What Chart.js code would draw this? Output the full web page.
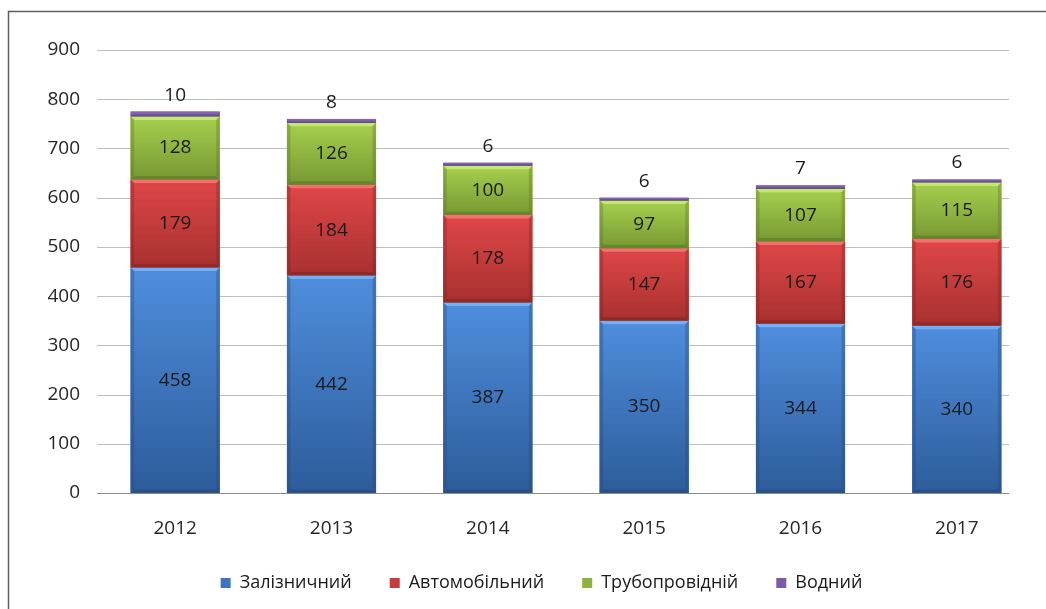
<!DOCTYPE html>
<html>
<head>
<meta charset="utf-8">
<script src="https://cdn.jsdelivr.net/npm/chart.js@4.4.1/dist/chart.umd.min.js"></script>
<style>
html,body{margin:0;padding:0;background:#fff;}
#wrap{position:relative;width:1046px;height:609px;}
</style>
</head>
<body>
<div id="wrap"><canvas id="c" width="1046" height="609"></canvas></div>
<script>
const categories = ['2012', '2013', '2014', '2015', '2016', '2017'];
const seriesNames = ['Залізничний', 'Автомобільний', 'Трубопровідній', 'Водний'];
const railway = [458, 442, 387, 350, 344, 340];
const road = [179, 184, 178, 147, 167, 176];
const pipeline = [128, 126, 100, 97, 107, 115];
const water = [10, 8, 6, 6, 7, 6];
const yMin = 0, yMax = 900, yStep = 100;

const palettes = [
  {mid:'#3d74bd', top:'#4f8edd', bottom:'#2d5c9a', light:'#78b6f8', dark:'#25497a'},
  {mid:'#c73b3b', top:'#e04747', bottom:'#a83030', light:'#f87878', dark:'#7e2222'},
  {mid:'#8cb43c', top:'#a6d04e', bottom:'#789832', light:'#c8ec78', dark:'#5a7424'},
  {mid:'#7b5ba6', top:'#8a6ab5', bottom:'#6c4c96', light:'#a48acc', dark:'#4e3670'}
];

const FONT = '"Open Sans", "Liberation Sans", sans-serif';
const GRID_END = 1009;

const frame = {
  id: 'frame',
  afterDraw(chart) {
    const ctx = chart.ctx;
    ctx.save();
    ctx.strokeStyle = '#5e5e5e';
    ctx.lineWidth = 1.5;
    ctx.beginPath();
    ctx.moveTo(8.5, 609);
    ctx.lineTo(8.5, 11.5);
    ctx.lineTo(1046, 11.5);
    ctx.stroke();
    ctx.restore();
  }
};

const gridlines = {
  id: 'gridlines',
  beforeDatasetsDraw(chart) {
    const ctx = chart.ctx;
    const ys = chart.scales.y;
    const left = chart.chartArea.left;
    ctx.save();
    ctx.lineWidth = 1;
    ys.ticks.forEach(t => {
      const y = Math.round(ys.getPixelForValue(t.value)) + 0.5;
      ctx.strokeStyle = t.value === 0 ? '#8c8c8c' : '#bdbdbd';
      ctx.beginPath();
      ctx.moveTo(left, y);
      ctx.lineTo(GRID_END, y);
      ctx.stroke();
    });
    ctx.restore();
  }
};

const bevel = {
  id: 'bevel',
  afterDatasetsDraw(chart) {
    const ctx = chart.ctx;
    ctx.save();
    chart.data.datasets.forEach((ds, i) => {
      const meta = chart.getDatasetMeta(i);
      const p = palettes[i];
      meta.data.forEach((el, j) => {
        const l = el.x - el.width / 2, r = el.x + el.width / 2;
        const t = Math.min(el.y, el.base), b = Math.max(el.y, el.base);
        const h = b - t;
        if (h <= 0) return;
        const g = ctx.createLinearGradient(0, t, 0, b);
        g.addColorStop(0, p.top);
        g.addColorStop(1, p.bottom);
        ctx.fillStyle = g;
        ctx.fillRect(l, t, r - l, h);
        if (h > 8) {
          const bw = Math.min(3.5, h / 4);
          ctx.fillStyle = p.light;
          ctx.globalAlpha = 0.85;
          ctx.beginPath();
          ctx.moveTo(l, t); ctx.lineTo(r, t); ctx.lineTo(r - bw, t + bw); ctx.lineTo(l + bw, t + bw); ctx.closePath();
          ctx.fill();
          ctx.fillStyle = p.dark;
          ctx.globalAlpha = 0.35;
          ctx.beginPath();
          ctx.moveTo(l, t); ctx.lineTo(l + bw, t + bw); ctx.lineTo(l + bw, b - bw); ctx.lineTo(l, b); ctx.closePath();
          ctx.fill();
          ctx.beginPath();
          ctx.moveTo(r, t); ctx.lineTo(r - bw, t + bw); ctx.lineTo(r - bw, b - bw); ctx.lineTo(r, b); ctx.closePath();
          ctx.fill();
          ctx.globalAlpha = 0.55;
          ctx.beginPath();
          ctx.moveTo(l, b); ctx.lineTo(l + bw, b - bw); ctx.lineTo(r - bw, b - bw); ctx.lineTo(r, b); ctx.closePath();
          ctx.fill();
          ctx.globalAlpha = 1;
        } else {
          ctx.fillStyle = p.dark;
          ctx.globalAlpha = 0.5;
          ctx.fillRect(l, b - 1, r - l, 1);
          ctx.globalAlpha = 1;
        }
      });
    });
    ctx.fillStyle = '#1a1a1a';
    ctx.font = '19px ' + FONT;
    ctx.textAlign = 'center';
    chart.data.datasets.forEach((ds, i) => {
      const meta = chart.getDatasetMeta(i);
      meta.data.forEach((el, j) => {
        const v = ds.data[j];
        if (i === 3) {
          ctx.textBaseline = 'alphabetic';
          ctx.fillText(String(v), el.x, Math.min(el.y, el.base) - 11);
        } else {
          ctx.textBaseline = 'middle';
          ctx.fillText(String(v), el.x, (el.y + el.base) / 2);
        }
      });
    });
    ctx.restore();
  }
};

const seriesValues = [railway, road, pipeline, water];
const datasets = seriesValues.map((vals, i) => ({
  label: seriesNames[i],
  data: vals,
  backgroundColor: palettes[i].mid,
  borderWidth: 0,
  barPercentage: 0.57,
  categoryPercentage: 1.0
}));

new Chart(document.getElementById('c'), {
  type: 'bar',
  data: { labels: categories, datasets },
  options: {
    responsive: false,
    animation: false,
    devicePixelRatio: 1,
    layout: { padding: { top: 50, left: 48, right: 11, bottom: 7 } },
    plugins: {
      tooltip: { enabled: false },
      legend: {
        position: 'bottom',
        labels: {
          boxWidth: 10,
          boxHeight: 10,
          padding: 38,
          color: '#1a1a1a',
          font: { family: FONT, size: 18 },
          useBorderRadius: false
        }
      }
    },
    scales: {
      x: {
        stacked: true,
        grid: { display: false, drawTicks: false },
        border: { display: false },
        ticks: { color: '#262626', font: { family: FONT, size: 19 }, padding: 24 },
        afterFit(s) { s.height = 43; }
      },
      y: {
        stacked: true,
        min: yMin, max: yMax,
        grid: { display: false, drawTicks: false },
        border: { display: false },
        ticks: { stepSize: yStep, color: '#262626', font: { family: FONT, size: 19 }, padding: 17 },
        afterFit(s) { s.width = 49; }
      }
    }
  },
  plugins: [gridlines, bevel, frame]
});
</script>
</body>
</html>
